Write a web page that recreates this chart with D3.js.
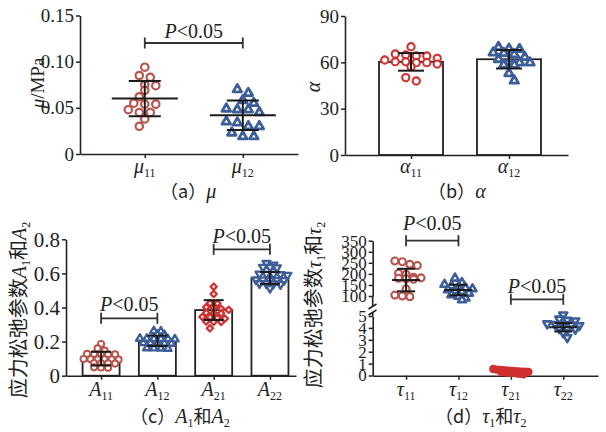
<!DOCTYPE html>
<html>
<head>
<meta charset="utf-8">
<script src="https://d3js.org/d3.v7.min.js"></script>
<style>
  body { margin: 0; background: #fff; }
</style>
</head>
<body>
<div id="chart"></div>
<script>
// ---- data ----
var muCats = ["11", "12"];
var mu11 = [0.094, 0.085, 0.083, 0.075, 0.074, 0.069, 0.062, 0.055, 0.054, 0.054, 0.048, 0.045, 0.045, 0.038, 0.030];
var mu12 = [0.070, 0.066, 0.058, 0.055, 0.049, 0.048, 0.048, 0.045, 0.035, 0.034, 0.030, 0.030, 0.023, 0.019, 0.019];
var muMean = [0.060, 0.042];
var muSD = [0.019, 0.016];
var muTicks = [0, 0.05, 0.10, 0.15];

var alphaCats = ["11", "12"];
var alpha11 = [70.1, 65.4, 64.8, 64.1, 64.1, 62.6, 61.5, 60.4, 60.4, 59.8, 59.8, 58.9, 57.2, 50.1, 47.9];
var alpha12 = [69.8, 68.7, 68.5, 66.3, 65.9, 65.2, 63.3, 62.0, 60.2, 59.8, 59.8, 58.3, 58.3, 52.9, 48.1];
var alphaMean = [60.3, 62.0];
var alphaSD = [5.7, 6.0];
var alphaTicks = [0, 30, 60, 90];

var aCats = ["11", "12", "21", "22"];
var A11 = [0.186, 0.160, 0.147, 0.128, 0.127, 0.126, 0.127, 0.125, 0.097, 0.096, 0.095, 0.096, 0.094, 0.098, 0.073, 0.072, 0.074, 0.071, 0.048, 0.046, 0.049];
var A12 = [0.262, 0.260, 0.241, 0.239, 0.218, 0.217, 0.215, 0.218, 0.216, 0.214, 0.191, 0.189, 0.192, 0.190, 0.188, 0.161, 0.160, 0.159, 0.162];
var A21 = [0.522, 0.479, 0.425, 0.423, 0.402, 0.398, 0.392, 0.386, 0.369, 0.367, 0.366, 0.345, 0.343, 0.338, 0.335, 0.318, 0.316, 0.315, 0.278];
var A22 = [0.660, 0.650, 0.637, 0.636, 0.634, 0.597, 0.595, 0.594, 0.596, 0.590, 0.562, 0.561, 0.560, 0.559, 0.563, 0.541, 0.539, 0.540, 0.536, 0.513];
var aMean = [0.100, 0.205, 0.385, 0.573];
var aSD = [0.040, 0.030, 0.058, 0.035];
var aTicks = [0, 0.2, 0.4, 0.6, 0.8];

var tauCats = ["11", "12", "21", "22"];
var tau11 = [258, 255, 243, 238, 203, 198, 185, 182, 180, 178, 176, 132, 104, 100, 97];
var tau12 = [180, 160, 152, 145, 140, 136, 132, 128, 124, 120, 112, 105, 98, 90, 82];
var tau21 = [0.55, 0.50, 0.48, 0.45, 0.42, 0.40, 0.38, 0.36, 0.35, 0.33, 0.32, 0.30, 0.28, 0.26, 0.24, 0.22, 0.20, 0.17, 0.14, 0.10];
var tau22 = [5.1, 4.75, 4.65, 4.6, 4.35, 4.3, 4.3, 4.25, 4.2, 3.95, 3.9, 3.9, 3.6, 3.2];
var tauMean = [172, 127, 0.34, 4.05];
var tauSD = [51, 24, 0.12, 0.35];
var tauTicksHigh = [100, 150, 200, 250, 300, 350];
var tauTicksLow = [0, 1, 2, 3, 4, 5];

// ---- style ----
var SERIF = "\"Liberation Serif\", \"Times New Roman\", Times, \"DejaVu Serif\", serif";
var CJK = "\"Noto Sans CJK SC\", sans-serif";
var INK = "#222";
var BROWN = "#b8544c", RED = "#cf3030", BLUE = "#3d5e98";

var svg = d3.select("#chart").append("svg")
  .attr("width", 606).attr("height", 432)
  .style("font-family", SERIF);
svg.append("rect").attr("width", 606).attr("height", 432).attr("fill", "#fff");

function styleAxis(ax, fs) {
  ax.attr("font-family", null).attr("font-size", null);
  ax.select(".domain").attr("stroke", INK).attr("stroke-width", 1.6);
  ax.selectAll(".tick line").attr("stroke", INK).attr("stroke-width", 1.5);
  ax.selectAll(".tick text").attr("fill", INK).style("font-family", SERIF).style("font-size", (fs || 19) + "px");
}

function yAxis(x0, y, ticks, fmt, fs) {
  var ax = svg.append("g").attr("transform", "translate(" + x0 + ",0)")
    .call(d3.axisLeft(y).tickValues(ticks).tickFormat(fmt).tickSize(4).tickSizeOuter(0).tickPadding(2));
  styleAxis(ax, fs);
  return ax;
}

function xAxis(x, y0, sym, labY) {
  var ax = svg.append("g").attr("transform", "translate(0," + y0 + ")")
    .call(d3.axisBottom(x).tickSize(4).tickSizeOuter(0).tickFormat(""));
  styleAxis(ax);
  x.domain().forEach(function (c) {
    var t = svg.append("text").attr("x", x(c)).attr("y", labY)
      .attr("text-anchor", "middle").attr("fill", INK).style("font-size", "20px");
    t.append("tspan").style("font-style", "italic").text(sym);
    t.append("tspan").attr("dy", 4).style("font-size", "12px").text(c);
  });
}

// scatter-dot layout: group points into horizontal rows, spread each row symmetrically
function rowLayout(vals, y, binH, s, r) {
  var pts = vals.map(function (v) { return { v: v, y: y(v) }; })
    .sort(function (a, b) { return a.y - b.y; });
  var rows = [];
  pts.forEach(function (p) {
    var row = rows[rows.length - 1];
    if (row && p.y - row[0].y < binH) row.push(p); else rows.push([p]);
  });
  var prev = null, flip = 1;
  rows.forEach(function (row) {
    var n = row.length, shift = 0;
    if (prev && row[0].y - prev.row[prev.row.length - 1].y < 2 * r && (n % 2) === (prev.row.length % 2)) {
      shift = prev.shift === 0 ? flip * s / 2 : 0;
      flip = -flip;
    }
    row.forEach(function (p, i) { p.x = (i - (n - 1) / 2) * s + shift; });
    prev = { row: row, shift: shift };
  });
  return pts;
}

function points(vals, cx, y, shape, color, o) {
  var pts = rowLayout(vals, y, o.binH, o.s, o.r);
  var g = svg.append("g");
  pts.forEach(function (p) {
    var px = cx + p.x, py = p.y;
    if (shape === "circle" || shape === "dot") {
      g.append("circle").attr("cx", px).attr("cy", py).attr("r", o.size)
        .attr("fill", shape === "dot" ? color : "#fff")
        .attr("stroke", color).attr("stroke-width", o.sw);
    } else {
      var type = shape === "diamond" ? d3.symbolSquare : d3.symbolTriangle;
      var rot = shape === "diamond" ? 45 : (shape === "tridown" ? 180 : 0);
      g.append("path").attr("d", d3.symbol().type(type).size(o.size)())
        .attr("transform", "translate(" + px + "," + py + ") rotate(" + rot + ")")
        .attr("fill", "#fff").attr("stroke", color).attr("stroke-width", o.sw)
        .attr("stroke-linejoin", "round");
    }
  });
}

function errBar(cx, yHi, yLo, capW, yMean, meanW) {
  var g = svg.append("g").attr("stroke", "#1a1a1a").attr("stroke-width", 2);
  g.append("line").attr("x1", cx).attr("x2", cx).attr("y1", yHi).attr("y2", yLo);
  g.append("line").attr("x1", cx - capW).attr("x2", cx + capW).attr("y1", yHi).attr("y2", yHi);
  g.append("line").attr("x1", cx - capW).attr("x2", cx + capW).attr("y1", yLo).attr("y2", yLo);
  if (meanW) g.append("line").attr("x1", cx - meanW).attr("x2", cx + meanW).attr("y1", yMean).attr("y2", yMean);
}

function bar(cx, w, yTop, yBase) {
  svg.append("rect").attr("x", cx - w / 2).attr("y", yTop).attr("width", w).attr("height", yBase - yTop)
    .attr("fill", "#fff").attr("stroke", INK).attr("stroke-width", 1.8);
}

function bracket(x1, x2, y, ty) {
  var g = svg.append("g").attr("stroke", "#333").attr("stroke-width", 1.8);
  g.append("line").attr("x1", x1).attr("x2", x2).attr("y1", y).attr("y2", y);
  g.append("line").attr("x1", x1).attr("x2", x1).attr("y1", y - 5.5).attr("y2", y + 5.5);
  g.append("line").attr("x1", x2).attr("x2", x2).attr("y1", y - 5.5).attr("y2", y + 5.5);
  var t = svg.append("text").attr("x", (x1 + x2) / 2).attr("y", ty).attr("text-anchor", "middle")
    .attr("fill", INK).style("font-size", "20px");
  t.append("tspan").style("font-style", "italic").text("P");
  t.append("tspan").text("<0.05");
}

// mixed label pieces: t text, i italic, sub subscript, back return from subscript, cjk Chinese glyphs
function addParts(t, parts, italicSize) {
  parts.forEach(function (p) {
    var s = t.append("tspan").text(p.t);
    if (p.i) { s.style("font-style", "italic"); if (italicSize) s.style("font-size", italicSize + "px"); }
    if (p.cjk) s.style("font-family", CJK);
    if (p.sub) s.attr("dy", 4).style("font-size", "12px");
    if (p.back) s.attr("dy", -4);
  });
}

function rotLabel(cx, cy, parts, size) {
  var t = svg.append("text").attr("transform", "translate(" + cx + "," + cy + ") rotate(-90)")
    .attr("text-anchor", "middle").attr("fill", INK).style("font-size", size + "px");
  addParts(t, parts);
}

function caption(x, y, parts) {
  var t = svg.append("text").attr("x", x).attr("y", y).attr("fill", INK).style("font-size", "18px");
  addParts(t, parts, 20);
}

var fmt2 = function (d) { return d === 0 ? "0" : d3.format(".2f")(d); };
var fmt1 = function (d) { return d === 0 ? "0" : d3.format(".1f")(d); };

// ---- (a) mu ----
var xA = d3.scalePoint().domain(muCats).range([80, 298]).padding(0.612).align(0.54);
var yA = d3.scaleLinear().domain([0, 0.15]).range([154, 15.5]);
yAxis(80, yA, muTicks, fmt2, 19);
xAxis(xA, 154, "μ", 173);
points(mu11, xA("11"), yA, "circle", BROWN, { size: 3.7, sw: 2.2, r: 4.3, binH: 5, s: 11 });
points(mu12, xA("12"), yA, "tri", BLUE, { size: 32, sw: 2.8, r: 4.3, binH: 5, s: 11 });
muCats.forEach(function (c, i) {
  errBar(xA(c), yA(muMean[i] + muSD[i]), yA(muMean[i] - muSD[i]), 16, yA(muMean[i]), 33);
});
bracket(xA("11"), xA("12"), 43, 37.5);
rotLabel(44, 83, [{ t: "μ", i: true }, { t: "/MPa" }], 19);
caption(160, 198, [{ t: "（a）", cjk: true }, { t: "μ", i: true }]);

// ---- (b) alpha ----
var xB = d3.scalePoint().domain(alphaCats).range([345, 568]).padding(0.638).align(0.528);
var yB = d3.scaleLinear().domain([0, 90]).range([155, 16]);
alphaCats.forEach(function (c, i) { bar(xB(c), 64, yB(alphaMean[i]), yB(0)); });
yAxis(345, yB, alphaTicks, d3.format("d"), 19);
xAxis(xB, 155, "α", 173);
points(alpha11, xB("11"), yB, "circle", RED, { size: 3.6, sw: 2.1, r: 4.5, binH: 5, s: 10.5 });
points(alpha12, xB("12"), yB, "tri", BLUE, { size: 32, sw: 2.8, r: 4.5, binH: 5, s: 10.5 });
alphaCats.forEach(function (c, i) {
  errBar(xB(c), yB(alphaMean[i] + alphaSD[i]), yB(alphaMean[i] - alphaSD[i]), 13);
});
rotLabel(320, 87, [{ t: "α", i: true }], 20);
caption(428, 198, [{ t: "（b）", cjk: true }, { t: "α", i: true }]);

// ---- (c) A1 and A2 ----
var xC = d3.scalePoint().domain(aCats).range([66, 296]).padding(0.543).align(0.574);
var yC = d3.scaleLinear().domain([0, 0.8]).range([375.7, 239.3]);
aCats.forEach(function (c, i) { bar(xC(c), 37, yC(aMean[i]), yC(0)); });
yAxis(66, yC, aTicks, fmt1, 21);
xAxis(xC, 375.7, "A", 396);
points(A11, xC("11"), yC, "circle", BROWN, { size: 3.1, sw: 1.9, r: 3.3, binH: 3, s: 7 });
points(A12, xC("12"), yC, "tri", BLUE, { size: 24, sw: 2.4, r: 3.3, binH: 3, s: 7 });
points(A21, xC("21"), yC, "diamond", RED, { size: 20, sw: 2.2, r: 3.4, binH: 3, s: 7.5 });
points(A22, xC("22"), yC, "tridown", BLUE, { size: 26, sw: 2.4, r: 3.3, binH: 3, s: 7 });
aCats.forEach(function (c, i) {
  errBar(xC(c), yC(aMean[i] + aSD[i]), yC(aMean[i] - aSD[i]), 10);
});
bracket(xC("11"), xC("12"), 318.3, 311);
bracket(xC("21"), xC("22"), 249.3, 242.5);
rotLabel(26, 310, [{ t: "应力松弛参数", cjk: true }, { t: "A", i: true }, { t: "1", sub: true },
  { t: "和", back: true, cjk: true }, { t: "A", i: true }, { t: "2", sub: true }], 20);
caption(130, 423, [{ t: "（c）", cjk: true }, { t: "A", i: true }, { t: "1", sub: true },
  { t: "和", back: true, cjk: true }, { t: "A", i: true }, { t: "2", sub: true }]);

// ---- (d) tau1 and tau2, broken axis ----
var xD = d3.scalePoint().domain(tauCats).range([372.7, 598]).padding(0.65).align(0.49);
var yHi = d3.scaleLinear().domain([100, 350]).range([296, 240.7]);
var yLo = d3.scaleLinear().domain([0, 5]).range([375.5, 316]);
var yD = function (v) { return v >= 50 ? yHi(v) : yLo(v); };
yAxis(372.7, yHi, tauTicksHigh, d3.format("d"), 17);
yAxis(372.7, yLo, tauTicksLow, d3.format("d"), 17);
var brk = svg.append("g").attr("stroke", INK).attr("stroke-width", 1.6).attr("fill", "none");
brk.append("path").attr("d", "M372.7,296V306 M368.5,309L376.5,304");
brk.append("path").attr("d", "M372.7,316V312 M368.5,315L376.5,310");
xAxis(xD, 375.7, "τ", 396);
points(tau11, xD("11"), yD, "circle", BROWN, { size: 3.5, sw: 2.1, r: 4, binH: 5, s: 7.5 });
points(tau12, xD("12"), yD, "tri", BLUE, { size: 28, sw: 2.6, r: 3.8, binH: 5, s: 7 });
points(tau22, xD("22"), yD, "tridown", BLUE, { size: 28, sw: 2.6, r: 3.8, binH: 4, s: 8 });
tauCats.forEach(function (c, i) {
  errBar(xD(c), yD(tauMean[i] + tauSD[i]), yD(tauMean[i] - tauSD[i]), 9, yD(tauMean[i]), 14);
});
// the tiny tau21 cluster hides its own error bar
points(tau21, xD("21"), yD, "dot", RED, { size: 3.4, sw: 1.5, r: 1.5, binH: 3, s: 3.2 });
bracket(xD("11"), xD("12"), 240.7, 230);
bracket(xD("21"), xD("22"), 299.3, 292.5);
rotLabel(321, 305, [{ t: "应力松弛参数", cjk: true }, { t: "τ", i: true }, { t: "1", sub: true },
  { t: "和", back: true, cjk: true }, { t: "τ", i: true }, { t: "2", sub: true }], 20);
caption(435, 423, [{ t: "（d）", cjk: true }, { t: "τ", i: true }, { t: "1", sub: true },
  { t: "和", back: true, cjk: true }, { t: "τ", i: true }, { t: "2", sub: true }]);
</script>
</body>
</html>
